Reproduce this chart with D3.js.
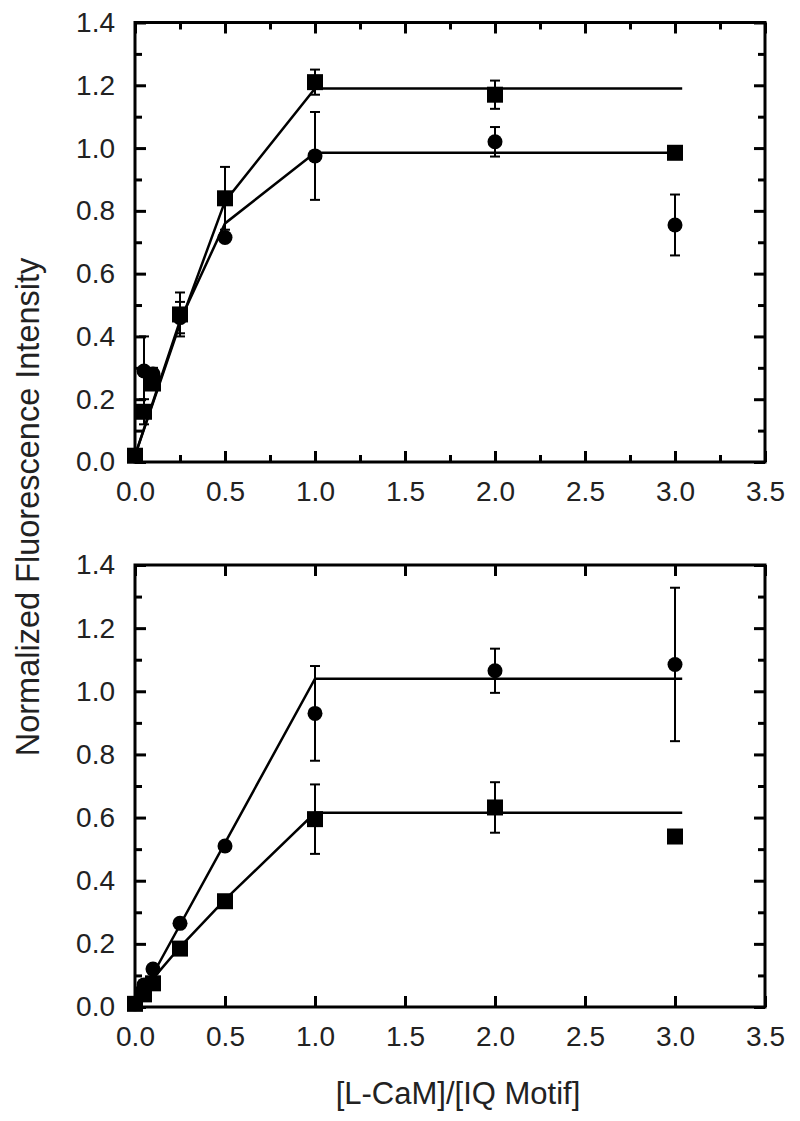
<!DOCTYPE html>
<html><head><meta charset="utf-8">
<script src="https://cdn.jsdelivr.net/npm/d3@7"></script>
<style>body{margin:0;background:#fff}svg{display:block}text{font-family:"Liberation Sans",Arial,sans-serif;fill:#222}</style>
</head><body><div id="chart"></div>
<script>
// ---- data ----
const xTickLabels = [0, 0.5, 1.0, 1.5, 2.0, 2.5, 3.0, 3.5];
const yTickLabels = [0, 0.2, 0.4, 0.6, 0.8, 1.0, 1.2, 1.4];

const topX = [0, 0.05, 0.1, 0.25, 0.5, 1.0, 2.0, 3.0];
const topSquareY   = [0.02, 0.16, 0.25, 0.47, 0.84, 1.21, 1.17, 0.985];
const topSquareErr = [0, 0.04, 0.02, 0.07, 0.10, 0.04, 0.045, 0.02];
const topCircleY   = [0.02, 0.29, 0.28, 0.46, 0.715, 0.975, 1.02, 0.755];
const topCircleErr = [0, 0.11, 0.02, 0.05, 0, 0.14, 0.047, 0.097];
const topFitX = [0, 0.25, 0.5, 1.0, 3.04];
const topSquareFit = [0.02, 0.44, 0.83, 1.19, 1.19];
const topCircleFit = [0.02, 0.45, 0.76, 0.985, 0.985];

const botX = [0, 0.05, 0.1, 0.25, 0.5, 1.0, 2.0, 3.0];
const botCircleY   = [0.01, 0.07, 0.12, 0.265, 0.51, 0.93, 1.065, 1.085];
const botCircleErr = [0, 0, 0, 0, 0, 0.15, 0.07, 0.243];
const botSquareY   = [0.01, 0.04, 0.075, 0.185, 0.335, 0.595, 0.632, 0.54];
const botSquareErr = [0, 0, 0, 0, 0, 0.11, 0.08, 0];
const botCircleFitX = [0, 1.0, 3.04];
const botCircleFit  = [0, 1.04, 1.04];
const botSquareFitX = [0, 0.1, 0.25, 0.5, 1.0, 3.04];
const botSquareFit  = [0, 0.09, 0.19, 0.34, 0.615, 0.615];

const W = 800, H = 1121;
const svg = d3.select("#chart").append("svg").attr("width", W).attr("height", H);
const fmt = d3.format(".1f");

function panel(top, bottom, cfg) {
  const x = d3.scaleLinear().domain([0, 3.5]).range([135, 765]);
  const y = d3.scaleLinear().domain([0, 1.4]).range([bottom, top]);
  const g = svg.append("g");
  const sw = 3;
  const styleAxis = (sel, showLabels) => {
    sel.select(".domain").remove();
    sel.selectAll(".tick line").attr("stroke", "#000").attr("stroke-width", sw);
    if (!showLabels) sel.selectAll(".tick text").remove();
    else sel.selectAll(".tick text").attr("font-size", 28).attr("fill", "#222");
  };
  const xMinor = cfg.xMinor ? d3.range(0.25, 3.5, 0.5) : [];
  const yMinor = d3.range(0.1, 1.4, 0.2);
  g.append("g").attr("transform", `translate(0,${bottom})`)
    .call(d3.axisBottom(x).tickValues(xTickLabels).tickSize(-11).tickPadding(19).tickFormat(fmt))
    .call(s => styleAxis(s, true));
  g.append("g").attr("transform", `translate(0,${bottom})`)
    .call(d3.axisBottom(x).tickValues(xMinor).tickSize(-7)).call(s => styleAxis(s, false));
  g.append("g").attr("transform", `translate(0,${top})`)
    .call(d3.axisTop(x).tickValues(xTickLabels).tickSize(-11)).call(s => styleAxis(s, false));
  g.append("g").attr("transform", `translate(0,${top})`)
    .call(d3.axisTop(x).tickValues(xMinor).tickSize(-7)).call(s => styleAxis(s, false));
  g.append("g").attr("transform", `translate(135,0)`)
    .call(d3.axisLeft(y).tickValues(yTickLabels).tickSize(-11).tickPadding(20).tickFormat(fmt))
    .call(s => styleAxis(s, true));
  g.append("g").attr("transform", `translate(135,0)`)
    .call(d3.axisLeft(y).tickValues(yMinor).tickSize(-7)).call(s => styleAxis(s, false));
  g.append("g").attr("transform", `translate(765,0)`)
    .call(d3.axisRight(y).tickValues(yTickLabels).tickSize(-11)).call(s => styleAxis(s, false));
  g.append("g").attr("transform", `translate(765,0)`)
    .call(d3.axisRight(y).tickValues(yMinor).tickSize(-7)).call(s => styleAxis(s, false));
  g.append("rect").attr("x", 135).attr("y", top).attr("width", 630).attr("height", bottom - top)
    .attr("fill", "none").attr("stroke", "#000").attr("stroke-width", sw);

  const line = d3.line().x(d => x(d[0])).y(d => y(d[1]));
  cfg.fits.forEach(f => {
    g.append("path").datum(d3.zip(f.x, f.y)).attr("d", line)
      .attr("fill", "none").attr("stroke", "#000").attr("stroke-width", 2.5);
  });
  cfg.series.forEach(s => {
    const pts = s.x.map((xv, i) => ({x: xv, y: s.y[i], e: s.err[i]}));
    const eb = g.append("g").selectAll("g").data(pts.filter(d => d.e > 0)).join("g")
      .attr("stroke", "#000").attr("stroke-width", 2);
    eb.append("line").attr("x1", d => x(d.x)).attr("x2", d => x(d.x))
      .attr("y1", d => y(d.y - d.e)).attr("y2", d => y(d.y + d.e));
    eb.append("line").attr("x1", d => x(d.x) - 5).attr("x2", d => x(d.x) + 5)
      .attr("y1", d => y(d.y - d.e)).attr("y2", d => y(d.y - d.e));
    eb.append("line").attr("x1", d => x(d.x) - 5).attr("x2", d => x(d.x) + 5)
      .attr("y1", d => y(d.y + d.e)).attr("y2", d => y(d.y + d.e));
    const sym = s.shape === "square" ? d3.symbolSquare : d3.symbolCircle;
    const size = s.shape === "square" ? 16 * 16 : Math.PI * 7.5 * 7.5;
    g.append("g").selectAll("path").data(pts).join("path")
      .attr("transform", d => `translate(${x(d.x)},${y(d.y)})`)
      .attr("d", d3.symbol(sym, size)).attr("fill", "#000");
  });
}

panel(22.5, 462, {
  xMinor: true,
  fits: [{x: topFitX, y: topSquareFit}, {x: topFitX, y: topCircleFit}],
  series: [
    {shape: "circle", x: topX, y: topCircleY, err: topCircleErr},
    {shape: "square", x: topX, y: topSquareY, err: topSquareErr}
  ]
});
panel(565, 1007, {
  xMinor: false,
  fits: [{x: botCircleFitX, y: botCircleFit}, {x: botSquareFitX, y: botSquareFit}],
  series: [
    {shape: "circle", x: botX, y: botCircleY, err: botCircleErr},
    {shape: "square", x: botX, y: botSquareY, err: botSquareErr}
  ]
});

svg.append("text").attr("transform", "translate(39,507) rotate(-90)")
  .attr("text-anchor", "middle").attr("font-size", 32.5).text("Normalized Fluorescence Intensity");
svg.append("text").attr("x", 458).attr("y", 1104)
  .attr("text-anchor", "middle").attr("font-size", 31).text("[L-CaM]/[IQ Motif]");
</script></body></html>
